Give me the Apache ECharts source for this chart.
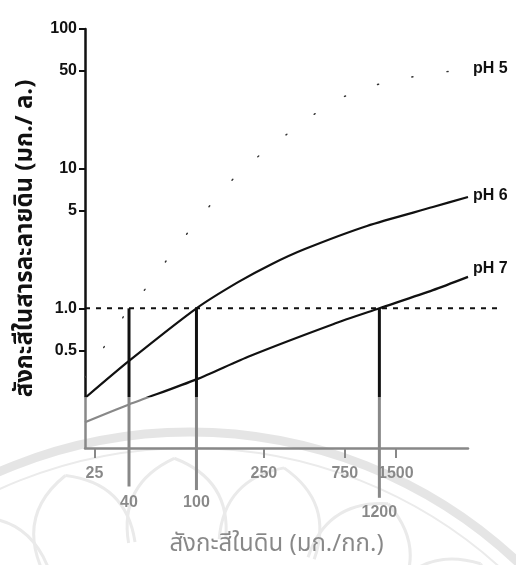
<!DOCTYPE html>
<html>
<head>
<meta charset="utf-8">
<title>สังกะสีในสารละลายดิน</title>
<script src="https://cdn.jsdelivr.net/npm/echarts@6/dist/echarts.min.js"></script>
<style>
  html, body { margin: 0; padding: 0; background: #fff; }
  #chart { width: 516px; height: 565px; }
</style>
</head>
<body>
<div id="chart"></div>
<script>
// Tick marks on the soil-zinc axis and the solution-zinc axis
const xTickValues = [25, 250, 750, 1500];
const yTickValues = [0.5, 1, 5, 10, 50, 100];

// Soil zinc levels at which each curve reaches the 1.0 mg/L line
const thresholdSoil = [40, 100, 1200];
const thresholdDropEnd = [0.053, 0.05, 0.044];
const criticalLevel = 1.0;

// Zinc in soil solution (mg/L) against zinc in soil (mg/kg)
const soilPH5 = [22, 40, 53, 77, 178, 436, 675, 1014, 1610, 4000];
const solutionPH5 = [0.32, 1.0, 1.5, 2.8, 9.3, 22, 31, 38, 44, 52];
const soilPH6 = [22, 40, 100, 176, 279, 436, 1014, 2483, 4000];
const solutionPH6 = [0.228, 0.42, 1.0, 1.54, 2.08, 2.66, 3.89, 5.31, 6.27];
const soilPH7 = [22, 40, 100, 207, 640, 1200, 2483, 4000];
const solutionPH7 = [0.153, 0.205, 0.31, 0.456, 0.77, 1.0, 1.35, 1.68];

const NUM_FONT = "'Liberation Sans', Arial, Helvetica, sans-serif";
const THAI_FONT = "'Noto Sans Thai', 'Noto Sans Thai UI', Loma, Garuda, Norasi, 'Tlwg Typo', 'DejaVu Sans', sans-serif";
const INK = '#111';

const pairs = (xs, ys) => xs.map((x, i) => [x, ys[i]]);
const plain = v => String(v);

const labelStyle = {
  color: INK, fontFamily: NUM_FONT, fontWeight: 'bold', fontSize: 16
};

// Seal watermark behind the lower part of the chart
const sealCx = 190, sealCy = 910;
const watermark = [
  { type: 'circle', z: -10, silent: true,
    shape: { cx: sealCx, cy: sealCy, r: 478 },
    style: { fill: null, stroke: '#cbcbcb', lineWidth: 9 } },
  { type: 'circle', z: -10, silent: true,
    shape: { cx: sealCx, cy: sealCy, r: 462 },
    style: { fill: null, stroke: '#d6d6d6', lineWidth: 2 } }
];
const petalAngles = [-44, -30, -16, -2, 12, 26, 40, 54];
const rad = d => d * Math.PI / 180;
const polar = (r, deg) => [sealCx + r * Math.sin(rad(deg)), sealCy - r * Math.cos(rad(deg))];
petalAngles.forEach(a => {
  const tip = polar(452, a);
  [-1, 1].forEach(side => {
    const base = polar(372, a + side * 7.5);
    const cp = polar(432, a + side * 7.5);
    watermark.push({
      type: 'bezierCurve', z: -10, silent: true,
      shape: { x1: base[0], y1: base[1], x2: tip[0], y2: tip[1], cpx1: cp[0], cpy1: cp[1] },
      style: { fill: null, stroke: '#d4d4d4', lineWidth: 3 }
    });
  });
});
// Pale wash over the lower band where the seal sits
watermark.push({
  type: 'rect', z: 100, silent: true,
  shape: { x: 0, y: 397, width: 516, height: 168 },
  style: { fill: 'rgba(255,255,255,0.5)' }
});

const chart = echarts.init(document.getElementById('chart'), null, { renderer: 'canvas' });

const curve = (name, xs, ys, lineStyle, labelOffset) => ({
  name, type: 'line', xAxisIndex: 0, yAxisIndex: 0,
  data: pairs(xs, ys), smooth: 0.25, symbol: 'none', clip: false,
  lineStyle: Object.assign({ color: INK, width: 2.2 }, lineStyle),
  endLabel: Object.assign({ show: true, formatter: '{a}', distance: 5, offset: labelOffset }, labelStyle)
});

const dropLines = thresholdSoil.map((x, i) => ({
  type: 'line', xAxisIndex: 0, yAxisIndex: 0, clip: false, symbol: 'none', z: 3,
  data: [[x, criticalLevel], [x, thresholdDropEnd[i]]],
  lineStyle: { color: INK, width: 3 }
}));

const option = {
  animation: false,
  backgroundColor: '#fff',
  grid: [
    { left: 85, right: 48, top: 29, bottom: 117 },
    { left: 85, right: 16, top: 29, bottom: 117 }
  ],
  xAxis: [
    {
      type: 'log', gridIndex: 0, position: 'bottom', min: 22, max: 4000,
      name: 'สังกะสีในดิน (มก./กก.)', nameLocation: 'middle', nameGap: 86,
      nameTextStyle: { color: INK, fontFamily: THAI_FONT, fontSize: 24 },
      axisLine: { show: true, lineStyle: { color: INK, width: 2.5 } },
      axisTick: { show: true, customValues: xTickValues, length: 10, lineStyle: { color: INK, width: 2 } },
      axisLabel: Object.assign({ customValues: xTickValues, margin: 18, formatter: plain }, labelStyle),
      splitLine: { show: false }, minorTick: { show: false }
    },
    {
      type: 'log', gridIndex: 0, position: 'bottom', min: 22, max: 4000,
      axisLine: { show: false }, axisTick: { show: false }, splitLine: { show: false },
      axisLabel: Object.assign({ customValues: thresholdSoil.slice(0, 2), margin: 47, formatter: plain }, labelStyle)
    },
    {
      type: 'log', gridIndex: 0, position: 'bottom', min: 22, max: 4000,
      axisLine: { show: false }, axisTick: { show: false }, splitLine: { show: false },
      axisLabel: Object.assign({ customValues: thresholdSoil.slice(2), margin: 57, formatter: plain }, labelStyle)
    },
    { type: 'value', gridIndex: 1, min: 0, max: 1, show: false }
  ],
  yAxis: [
    {
      type: 'log', gridIndex: 0, min: 0.1, max: 100,
      name: 'สังกะสีในสารละลายดิน (มก./ ล.)', nameLocation: 'middle', nameGap: 46, nameRotate: 90,
      nameTextStyle: { color: INK, fontFamily: THAI_FONT, fontSize: 24, fontWeight: 'bold' },
      axisLine: { show: true, lineStyle: { color: INK, width: 2.5 } },
      axisTick: { show: true, customValues: yTickValues, length: 6, lineStyle: { color: INK, width: 2 } },
      axisLabel: Object.assign({
        customValues: yTickValues, margin: 8,
        formatter: v => (v === 1 ? '1.0' : String(v))
      }, labelStyle),
      splitLine: { show: false }, minorTick: { show: false }
    },
    { type: 'log', gridIndex: 1, min: 0.1, max: 100, show: false }
  ],
  series: [
    curve('pH 5', soilPH5, solutionPH5, { color: '#333', width: 1.4, type: [1.2, 34], cap: 'round' }, [0, 0]),
    curve('pH 6', soilPH6, solutionPH6, {}, [0, -1]),
    curve('pH 7', soilPH7, solutionPH7, {}, [0, -8]),
    ...dropLines,
    {
      type: 'line', xAxisIndex: 3, yAxisIndex: 1, symbol: 'none',
      data: [[0, criticalLevel], [1, criticalLevel]],
      lineStyle: { color: INK, width: 2, type: [5, 6] }
    }
  ],
  graphic: watermark
};

chart.setOption(option);
</script>
</body>
</html>
